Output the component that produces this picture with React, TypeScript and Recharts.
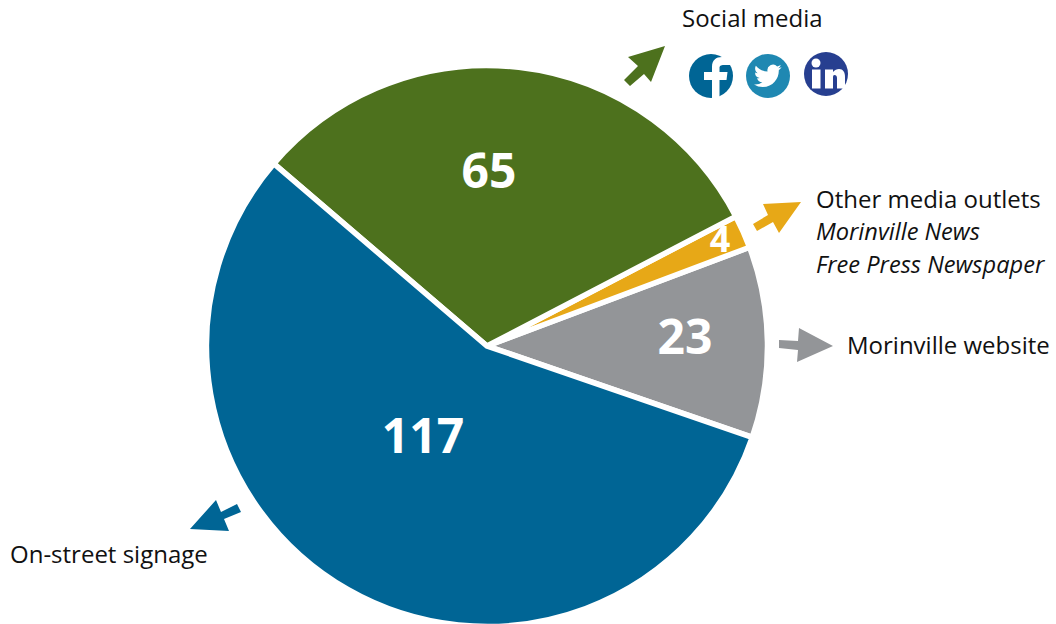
import { Pie, PieChart, Cell } from 'recharts';

const categories = ['Morinville website', 'Other media outlets', 'Social media', 'On-street signage'];
const responses = [23, 4, 65, 117];
const sliceColors = ['#939598', '#e7a817', '#4d711d', '#006595'];

// where the white counts sit, same order as the categories
const countAnchors = [
    { x: 685, y: 354, size: 48 },
    { x: 720, y: 252, size: 36 },
    { x: 489, y: 188, size: 48 },
    { x: 423, y: 453, size: 48 },
];

const arrows = [
    { color: '#4d711d', points: '665,46 628,57 638,66 624,80 630,86 644,74 651,82' },
    { color: '#e7a817', points: '801,202 763,204 768,215 753,224 757,231 773,222 779,233' },
    { color: '#939598', points: '833,346 799,328 798,341 779,340 779,348 798,350 797,362' },
    { color: '#006595', points: '190,529 216,500 221,512 237,504 241,512 224,519 229,531' },
];

const chartData = categories.map((name, i) => ({ name, value: responses[i] }));

const textFont = '"Open Sans", sans-serif';

function CountLabel(props: any) {
    const a = countAnchors[props.index];
    return (
        <text x={a.x} y={a.y} textAnchor="middle" fontFamily={textFont} fontWeight={700} fontSize={a.size} fill="#fff">
            {props.value}
        </text>
    );
}

function Caption({ x, y, italic, children }: any) {
    return (
        <text x={x} y={y} fontFamily={textFont} fontSize={italic ? 23.6 : 24} fontStyle={italic ? 'italic' : 'normal'} fill="#111">
            {children}
        </text>
    );
}

export default function App() {
    return (
        <div style={{ position: 'absolute', left: 0, top: 0, width: 1056, height: 624 }}>
            <PieChart width={1056} height={624} margin={{ top: 0, right: 0, bottom: 0, left: 0 }}>
                <Pie
                    data={chartData}
                    dataKey="value"
                    nameKey="name"
                    cx={487}
                    cy={346}
                    innerRadius={0}
                    outerRadius={280.5}
                    startAngle={-19}
                    endAngle={341}
                    stroke="#fff"
                    strokeWidth={5.5}
                    label={CountLabel}
                    labelLine={false}
                    isAnimationActive={false}
                >
                    {chartData.map((d, i) => (
                        <Cell key={d.name} fill={sliceColors[i]} />
                    ))}
                </Pie>
                {arrows.map((a) => (
                    <polygon key={a.color} points={a.points} fill={a.color} />
                ))}
                <Caption x={682} y={27}>Social media</Caption>
                <Caption x={816} y={208}>Other media outlets</Caption>
                <Caption x={816} y={240} italic>Morinville News</Caption>
                <Caption x={816} y={273} italic>Free Press Newspaper</Caption>
                <Caption x={847} y={354}>Morinville website</Caption>
                <Caption x={10} y={563}>On-street signage</Caption>

                {/* social icons */}
                <circle cx={711} cy={76} r={22} fill="#006595" />
                <path
                    d="M712 98 V80 H704 V72 H712 V67 C712 60 716 57 722 57 H733 V65 H724 C720.5 65 719.5 66 719.5 68 V72 H727.5 L726.5 80 H719.5 V98 Z"
                    fill="#fff"
                />
                <circle cx={768} cy={76} r={22} fill="#1f88b2" />
                <path
                    transform="translate(754 62) scale(1.15)"
                    d="M23.953 4.57a10 10 0 01-2.825.775 4.958 4.958 0 002.163-2.723c-.951.555-2.005.959-3.127 1.184a4.92 4.92 0 00-8.384 4.482C7.69 8.095 4.067 6.13 1.64 3.162a4.822 4.822 0 00-.666 2.475c0 1.71.87 3.213 2.188 4.096a4.904 4.904 0 01-2.228-.616v.06a4.923 4.923 0 003.946 4.827 4.996 4.996 0 01-2.212.085 4.936 4.936 0 004.604 3.417 9.867 9.867 0 01-6.102 2.105c-.39 0-.779-.023-1.17-.067a13.995 13.995 0 007.557 2.209c9.053 0 13.998-7.496 13.998-13.985 0-.21 0-.42-.015-.63A9.935 9.935 0 0024 4.59z"
                    fill="#fff"
                />
                <circle cx={826} cy={74} r={22} fill="#273f90" />
                <circle cx={816} cy={63} r={4.5} fill="#fff" />
                <rect x={812} y={69.5} width={8.5} height={19} fill="#fff" />
                <path
                    d="M825 69.5 H833 V72 C834.5 70 837 69 839 69 C843 69 845 72 845 77 V88.5 H837 V78 C837 76 836 75 834.5 75 C833 75 833 76.5 833 78 V88.5 H825 Z"
                    fill="#fff"
                />
            </PieChart>
        </div>
    );
}
